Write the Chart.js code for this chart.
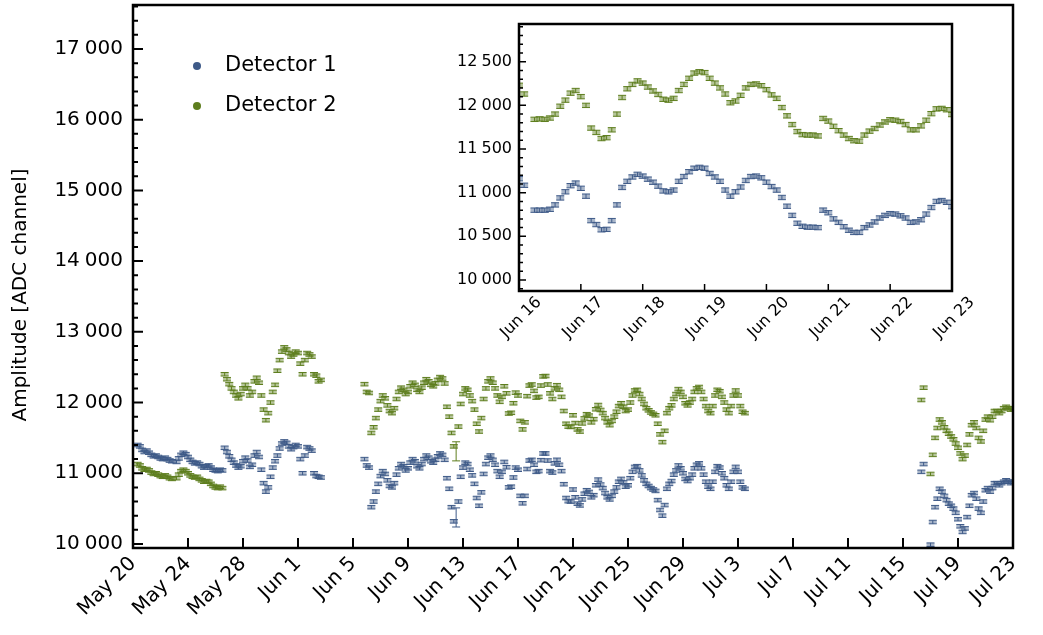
<!DOCTYPE html>
<html>
<head>
<meta charset="utf-8">
<script src="https://cdn.jsdelivr.net/npm/chart.js@4.4.1/dist/chart.umd.min.js"></script>
<style>
  html, body { margin: 0; padding: 0; background: #fff; }
  #wrap { position: relative; width: 1043px; height: 635px; }
  #main { position: absolute; left: 0; top: 0; }
  #inset { position: absolute; left: 430px; top: 0; }
</style>
</head>
<body>
<div id="wrap">
  <canvas id="main" width="1043" height="635"></canvas>
  <canvas id="inset" width="600" height="345"></canvas>
</div>
<script>
// ---- axis labels ----
const xTickLabels = ['May 20', 'May 24', 'May 28', 'Jun 1', 'Jun 5', 'Jun 9', 'Jun 13', 'Jun 17',
  'Jun 21', 'Jun 25', 'Jun 29', 'Jul 3', 'Jul 7', 'Jul 11', 'Jul 15', 'Jul 19', 'Jul 23'];
const yTicks = [10000, 11000, 12000, 13000, 14000, 15000, 16000, 17000];
const insetTickLabels = ['Jun 16', 'Jun 17', 'Jun 18', 'Jun 19', 'Jun 20', 'Jun 21', 'Jun 22', 'Jun 23'];
const insetYTicks = [10000, 10500, 11000, 11500, 12000, 12500];

// ---- main plot data: days after May 20, one value every 4 hours ----
const segStart = [2 / 6, 19 / 6, 101 / 6, 344 / 6];

const det1A = [11400, 11380, 11330, 11300, 11320, 11290, 11260, 11240, 11250, 11230, 11210, 11200, 11220, 11200, 11180, 11170];
const det2A = [11130, 11110, 11070, 11050, 11060, 11040, 11010, 10990, 11000, 10980, 10960, 10950, 10970, 10950, 10930, 10920];

const det1B = [11160, 11210, 11260, 11290, 11270, 11230, 11190, 11160, 11140, 11150, 11130, 11100, 11080, 11100, 11110, 11080, 11050, 11040, 11030, 11050, 11040,
  11360, 11300, 11240, 11190, 11150, 11110, 11080, 11100, 11170, 11220, 11180, 11090, 11120, 11250, 11300, 11230, 11050, 10860, 10740,
  10800, 10950, 11080, 11170, 11250, 11350, 11420, 11450, 11430, 11380, 11340, 11370, 11400, 11380, 11200, 11000, 11250, 11370, 11350, 11320, 11000, 10960, 10950, 10940];
const det2B = [10930, 10980, 11030, 11050, 11030, 11000, 10970, 10950, 10940, 10950, 10920, 10900, 10880, 10890, 10880, 10850, 10820, 10800, 10790, 10810, 10790,
  12400, 12330, 12260, 12200, 12150, 12100, 12060, 12120, 12200, 12250, 12200, 12100, 12150, 12300, 12350, 12280, 12100, 11900, 11750,
  11850, 12000, 12150, 12250, 12450, 12600, 12720, 12780, 12750, 12700, 12650, 12680, 12720, 12700, 12550, 12400, 12600, 12700, 12680, 12650, 12400, 12380, 12300, 12320];

const det1C = [11200, 11110, 11080, 10520, 10600, 10740, 10850, 10960, 11030, 10990, 10900, 10820, 10800, 10860, 10980, 11070, 11130, 11100, 11040, 11070,
  11150, 11200, 11170, 11100, 11070, 11130, 11200, 11250, 11220, 11170, 11150, 11190, 11240, 11280, 11260, 11190, 10930, 10780, 10520, 10320,
  10375, 10600, 10950, 11080, 11150, 11130, 11050, 10970, 10850, 10650, 10540, 10730, 10990, 11130, 11220, 11250, 11190, 11120, 11030, 10950,
  11020, 11160, 11085, 10800, 10810, 10940, 11080, 11050, 10680, 10575, 10680, 11060, 11180, 11190, 11120, 11020, 11030, 11185, 11280, 11280,
  11180, 11030, 11010, 11140, 11190, 11120, 11030, 10845, 10650, 10605, 10600, 10770, 10660, 10570, 10545, 10630, 10710, 10760, 10735, 10660,
  10690, 10830, 10910, 10840, 10790, 10720, 10660, 10630, 10680, 10740, 10800, 10880, 10920, 10870, 10810, 10830, 10930, 11020, 11090, 11100,
  11040, 10970, 10900, 10850, 10820, 10790, 10770, 10750, 10620, 10480, 10400, 10550, 10780, 10850, 10890, 10980, 11040, 11110, 11070, 11000,
  10920, 10890, 10930, 10980, 11070, 11120, 11140, 11070, 10980, 10880, 10810, 10780, 10880, 11020, 11100, 11080, 11000, 10930, 10830, 10780,
  10880, 11020, 11090, 11020, 10880, 10800, 10780];
const det2C = [12260, 12150, 12135, 11570, 11650, 11780, 11900, 12020, 12100, 12060, 11960, 11880, 11850, 11920, 12050, 12150, 12210, 12180, 12120, 12150,
  12230, 12280, 12250, 12180, 12150, 12210, 12280, 12330, 12300, 12250, 12230, 12270, 12320, 12360, 12340, 12270, 11940, 11800, 11570, 11380,
  11310, 11660, 11980, 12120, 12200, 12180, 12100, 12020, 11900, 11700, 11590, 11780, 12050, 12200, 12300, 12340, 12280, 12200, 12100, 12010,
  12080, 12230, 12130, 11845, 11855, 11990, 12140, 12100, 11740, 11620, 11720, 12090, 12240, 12255, 12165, 12070, 12080, 12240, 12370, 12375,
  12255, 12130, 12050, 12200, 12245, 12180, 12080, 11880, 11700, 11660, 11655, 11820, 11710, 11620, 11590, 11705, 11775, 11835, 11815, 11720,
  11765, 11905, 11965, 11895, 11850, 11780, 11720, 11680, 11740, 11800, 11870, 11950, 11990, 11940, 11880, 11900, 12000, 12100, 12170, 12180,
  12120, 12050, 11980, 11920, 11890, 11860, 11840, 11820, 11700, 11550, 11440, 11600, 11850, 11920, 11960, 12050, 12120, 12190, 12150, 12080,
  11990, 11960, 12000, 12050, 12150, 12200, 12220, 12150, 12050, 11950, 11880, 11850, 11950, 12100, 12180, 12160, 12080, 12000, 11900, 11850,
  11950, 12100, 12170, 12100, 11950, 11870, 11850];

const det1D = [11020, 11130, null, null, 9990, 10310, 10520, 10640, 10780, 10740, 10680, 10620, 10570, 10540, 10500, 10440, 10350, 10250, 10170, 10220,
  10380, 10540, 10690, 10720, 10640, 10500, 10440, 10600, 10760, 10790, 10740, 10790, 10860, 10860, 10830, 10860, 10880, 10900, 10880, 10860, 10880];
const det2D = [12036, 12210, null, null, 10990, 11260, 11500, 11640, 11760, 11720, 11650, 11600, 11560, 11520, 11480, 11420, 11360, 11280, 11200, 11250,
  11400, 11550, 11680, 11720, 11640, 11500, 11450, 11600, 11760, 11800, 11750, 11800, 11880, 11880, 11850, 11880, 11920, 11940, 11920, 11900, 11920];

// ---- inset data: hours after Jun 16 00:00, one value every 2 hours ----
const det1Inset = [11160, 11085, null, 10800, 10800, 10800, 10810, 10860, 10940, 11010, 11080, 11110, 11050, 10960, 10680, 10635, 10575, 10580, 10680, 10860,
  11060, 11130, 11180, 11210, 11190, 11155, 11120, 11075, 11020, 11010, 11030, 11130, 11185, 11240, 11280, 11290, 11280, 11220, 11180, 11130,
  11030, 10960, 11010, 11065, 11140, 11185, 11190, 11170, 11120, 11070, 11030, 10945, 10845, 10740, 10650, 10615, 10605, 10605, 10600, 10800,
  10770, 10700, 10660, 10610, 10570, 10545, 10545, 10600, 10630, 10665, 10710, 10740, 10760, 10755, 10735, 10710, 10660, 10665, 10690, 10755,
  10830, 10900, 10910, 10890, 10840];
const det2Inset = [12230, 12130, null, 11840, 11845, 11840, 11855, 11900, 11990, 12060, 12140, 12170, 12100, 12000, 11740, 11690, 11620, 11630, 11720, 11900,
  12090, 12190, 12240, 12280, 12255, 12210, 12165, 12125, 12070, 12060, 12080, 12170, 12240, 12310, 12370, 12385, 12375, 12310, 12255, 12200,
  12130, 12030, 12050, 12115, 12200, 12240, 12245, 12225, 12180, 12120, 12080, 11975, 11880, 11780, 11700, 11665, 11660, 11660, 11650, 11850,
  11820, 11760, 11710, 11660, 11620, 11595, 11590, 11660, 11705, 11735, 11775, 11810, 11835, 11830, 11815, 11780, 11720, 11720, 11765, 11830,
  11905, 11960, 11965, 11950, 11895];

// error bars (ADC channels)
const errBar = 25;
const errWide = 135;
const wideErrDay = 23.5;

const blue = '#3e5a88';
const green = '#5e7e1e';
const FONT = 'DejaVu Sans';

function buildPoints(starts, segs, step, errAt) {
  const pts = [];
  segs.forEach((vals, s) => vals.forEach((v, i) => {
    if (v === null) return;
    const x = starts[s] + i * step;
    pts.push({ x: x, y: v, err: errAt(x) });
  }));
  return pts;
}
const mainErr = x => Math.abs(x - wideErrDay) < 0.01 ? errWide : errBar;
const fmtThousands = v => String(v).replace(/\B(?=(\d{3})+(?!\d))/g, '\u2005');

// draws every point as a small capped error bar
const errorBars = {
  id: 'errorBars',
  afterDatasetsDraw(chart, args, o) {
    const { ctx, chartArea: a, scales: { y } } = chart;
    ctx.save();
    ctx.beginPath();
    ctx.rect(a.left, a.top, a.width, a.height);
    ctx.clip();
    chart.data.datasets.forEach((ds, di) => {
      const meta = chart.getDatasetMeta(di);
      meta.data.forEach((pt, i) => {
        const d = ds.data[i];
        const y0 = y.getPixelForValue(d.y + d.err);
        const y1 = y.getPixelForValue(d.y - d.err);
        if (d.err <= errBar) {
          ctx.fillStyle = ds.backgroundColor;
          ctx.fillRect(pt.x - o.half, y0, o.half * 2, y1 - y0);
        }
        ctx.strokeStyle = ds.borderColor;
        ctx.lineWidth = 1;
        ctx.beginPath();
        ctx.moveTo(pt.x - o.half, y0); ctx.lineTo(pt.x + o.half, y0);
        ctx.moveTo(pt.x - o.half, y1); ctx.lineTo(pt.x + o.half, y1);
        ctx.moveTo(pt.x, y0); ctx.lineTo(pt.x, y1);
        ctx.stroke();
      });
    });
    ctx.restore();
  }
};

// frame plus inward ticks
const frameTicks = {
  id: 'frameTicks',
  beforeDraw(chart) {
    const { ctx, chartArea: a } = chart;
    ctx.save();
    ctx.fillStyle = '#fff';
    ctx.fillRect(a.left, a.top, a.width, a.height);
    ctx.restore();
  },
  afterDraw(chart, args, o) {
    const { ctx, chartArea: a, scales: { x, y } } = chart;
    ctx.save();
    ctx.strokeStyle = '#000';
    ctx.lineWidth = o.tickWidth;
    ctx.beginPath();
    for (let v = Math.ceil(y.min / o.yMinor) * o.yMinor; v <= y.max; v += o.yMinor) {
      const py = y.getPixelForValue(v);
      const len = v % o.yMajor === 0 ? o.majorLen : o.minorLen;
      ctx.moveTo(a.left, py); ctx.lineTo(a.left + len, py);
    }
    for (let v = x.min; v <= x.max + 1e-6; v += o.xMajor) {
      const px = x.getPixelForValue(v);
      ctx.moveTo(px, a.bottom); ctx.lineTo(px, a.bottom - o.majorLen);
    }
    ctx.stroke();
    ctx.lineWidth = o.frameWidth;
    ctx.strokeRect(a.left, a.top, a.width, a.height);
    ctx.restore();
  }
};

// legend and rotated axis title
const seriesLegend = {
  id: 'seriesLegend',
  afterDraw(chart, args, o) {
    if (!o.show) return;
    const ctx = chart.ctx;
    ctx.save();
    ctx.font = o.size + 'px "' + FONT + '"';
    ctx.textBaseline = 'middle';
    chart.data.datasets.forEach((ds, i) => {
      const cy = o.y + i * o.gap;
      ctx.fillStyle = ds.borderColor;
      ctx.beginPath();
      ctx.arc(o.x, cy, 4, 0, Math.PI * 2);
      ctx.fill();
      ctx.fillStyle = '#000';
      ctx.fillText(ds.label, o.x + 28, cy);
    });
    ctx.translate(o.titleX, o.titleY);
    ctx.rotate(-Math.PI / 2);
    ctx.textAlign = 'center';
    ctx.font = '20px "' + FONT + '"';
    ctx.fillText(o.title, 0, 0);
    ctx.restore();
  }
};

function makeChart(id, cfg) {
  const ds = [
    { label: 'Detector 1', data: cfg.d1, borderColor: blue, backgroundColor: 'rgba(62,90,136,0.45)', pointRadius: 0, showLine: false },
    { label: 'Detector 2', data: cfg.d2, borderColor: green, backgroundColor: 'rgba(94,126,30,0.45)', pointRadius: 0, showLine: false }
  ];
  return new Chart(document.getElementById(id), {
    type: 'scatter',
    data: { datasets: ds },
    plugins: [errorBars, frameTicks, seriesLegend],
    options: {
      responsive: false,
      animation: false,
      events: [],
      layout: { padding: cfg.padding },
      plugins: {
        legend: { display: false },
        tooltip: { enabled: false },
        errorBars: { half: 4 },
        frameTicks: cfg.ticks,
        seriesLegend: cfg.legend
      },
      scales: {
        x: {
          type: 'linear',
          min: cfg.xMin, max: cfg.xMax,
          grid: { display: false, drawTicks: false },
          border: { display: false },
          afterBuildTicks: s => { s.ticks = cfg.xLabels.map((_, i) => ({ value: cfg.xMin + i * cfg.xStep })); },
          afterFit: s => { s.height = cfg.xHeight; s.paddingLeft = 0; s.paddingRight = 0; },
          ticks: {
            callback: (v, i) => cfg.xLabels[i],
            minRotation: 45, maxRotation: 45,
            padding: cfg.xPad,
            labelOffset: cfg.xLabelOffset,
            color: '#000',
            font: { family: FONT, size: cfg.fontSize }
          }
        },
        y: {
          min: cfg.yMin, max: cfg.yMax,
          grid: { display: false, drawTicks: false },
          border: { display: false },
          afterBuildTicks: s => { s.ticks = cfg.yTicks.map(v => ({ value: v })); },
          afterFit: s => { s.width = cfg.yWidth; s.paddingTop = 0; s.paddingBottom = 0; },
          ticks: {
            callback: v => fmtThousands(v),
            padding: cfg.yPad,
            color: '#000',
            font: { family: FONT, size: cfg.fontSize }
          }
        }
      }
    }
  });
}

makeChart('main', {
  d1: buildPoints(segStart, [det1A, det1B, det1C, det1D], 1 / 6, mainErr),
  d2: buildPoints(segStart, [det2A, det2B, det2C, det2D], 1 / 6, mainErr),
  padding: { left: 0, right: 30, top: 5, bottom: 0 },
  xMin: 0, xMax: 64, xStep: 4, xLabels: xTickLabels, xHeight: 87, xPad: 4, xLabelOffset: 0,
  yMin: 9943, yMax: 17622, yTicks: yTicks, yWidth: 133, yPad: 10,
  fontSize: 20,
  ticks: { yMajor: 1000, yMinor: 200, xMajor: 4, majorLen: 10, minorLen: 5, tickWidth: 2, frameWidth: 2.5 },
  legend: { show: true, x: 197, y: 66, gap: 40, size: 21, title: 'Amplitude [ADC channel]', titleX: 21, titleY: 295 }
});

makeChart('inset', {
  d1: buildPoints([0], [det1Inset], 2, () => errBar),
  d2: buildPoints([0], [det2Inset], 2, () => errBar),
  padding: { left: 0, right: 78, top: 24, bottom: 0 },
  xMin: 0, xMax: 168, xStep: 24, xLabels: insetTickLabels, xHeight: 54, xPad: 2, xLabelOffset: 20,
  yMin: 9874, yMax: 12932, yTicks: insetYTicks, yWidth: 89, yPad: 7,
  fontSize: 16,
  ticks: { yMajor: 500, yMinor: 100, xMajor: 24, majorLen: 7, minorLen: 4, tickWidth: 1.5, frameWidth: 2.5 },
  legend: { show: false }
});
</script>
</body>
</html>
